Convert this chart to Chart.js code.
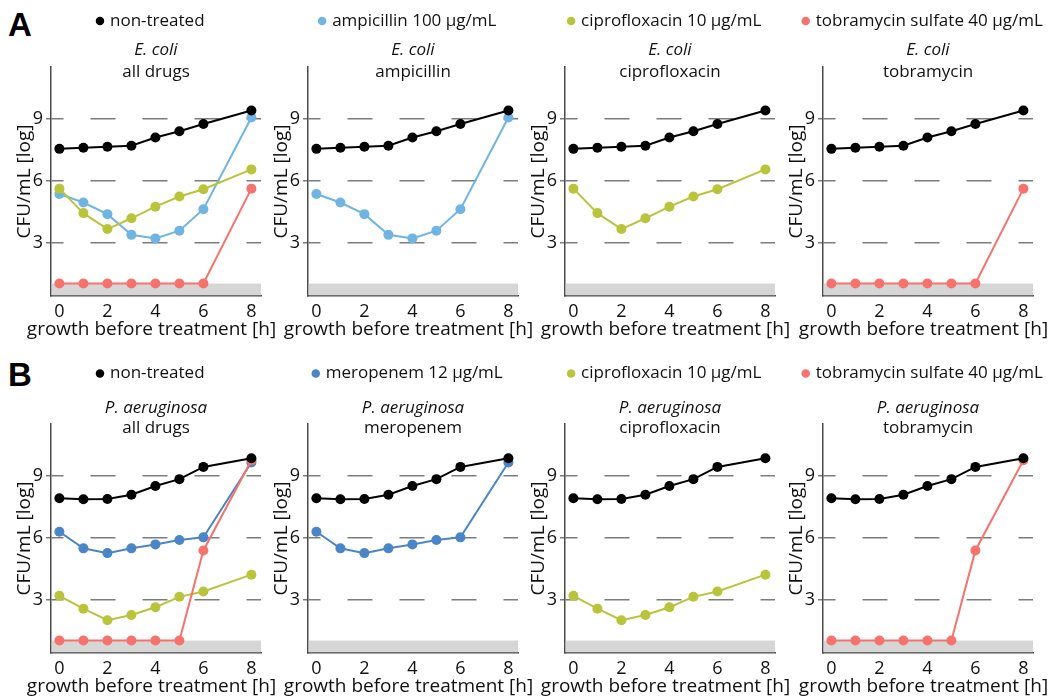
<!DOCTYPE html>
<html>
<head>
<meta charset="utf-8">
<script src="https://cdn.jsdelivr.net/npm/chart.js@4"></script>
<style>
  body { margin: 0; background: #fff; }
  #page { position: relative; width: 1059px; height: 698px; overflow: hidden; }
  canvas { position: absolute; }
  .tag { position: absolute; font: bold 33px 'Liberation Sans', Arial, sans-serif; line-height: 33px; color: #000; }
</style>
</head>
<body>
<div id="page">
  <div class="tag" style="left:8px; top:8px">A</div>
  <div class="tag" style="left:8px; top:358px">B</div>
</div>
<script>
const hours = [0, 1, 2, 3, 4, 5, 6, 8];
const xTickValues = [0, 2, 4, 6, 8];
const yTickValues = [3, 6, 9];
const detectionLimit = 1.05;

// E. coli, log CFU/mL
const ecoliNonTreated = [7.55, 7.6, 7.65, 7.7, 8.1, 8.4, 8.75, 9.4];
const ecoliAmpicillin = [5.37, 4.96, 4.4, 3.4, 3.23, 3.6, 4.64, 9.06];
const ecoliCiprofloxacin = [5.63, 4.45, 3.68, 4.2, 4.76, 5.25, 5.6, 6.56];
const ecoliTobramycin = [1.05, 1.05, 1.05, 1.05, 1.05, 1.05, 1.05, 5.63];

// P. aeruginosa, log CFU/mL
const paNonTreated = [7.92, 7.87, 7.88, 8.09, 8.51, 8.84, 9.43, 9.85];
const paMeropenem = [6.3, 5.5, 5.27, 5.5, 5.69, 5.9, 6.03, 9.64];
const paCiprofloxacin = [3.21, 2.59, 2.03, 2.28, 2.66, 3.16, 3.42, 4.23];
const paTobramycin = [1.05, 1.05, 1.05, 1.05, 1.05, 1.05, 5.4, 9.75];

const ecoliLabels = ['non-treated', 'ampicillin 100 µg/mL', 'ciprofloxacin 10 µg/mL', 'tobramycin sulfate 40 µg/mL'];
const paLabels = ['non-treated', 'meropenem 12 µg/mL', 'ciprofloxacin 10 µg/mL', 'tobramycin sulfate 40 µg/mL'];
const ecoliSubtitles = ['all drugs', 'ampicillin', 'ciprofloxacin', 'tobramycin'];
const paSubtitles = ['all drugs', 'meropenem', 'ciprofloxacin', 'tobramycin'];

const ecoliColors = ['#000000', '#70b4e2', '#b9c43b', '#f6736d'];
const paColors = ['#000000', '#4a86c6', '#b9c43b', '#f6736d'];

const rows = [
  { top: 0, species: 'E. coli', series: [ecoliNonTreated, ecoliAmpicillin, ecoliCiprofloxacin, ecoliTobramycin],
    labels: ecoliLabels, subtitles: ecoliSubtitles, colors: ecoliColors, legendPad: 12.5, titlePad: 0, subPad: 2 },
  { top: 357, species: 'P. aeruginosa', series: [paNonTreated, paMeropenem, paCiprofloxacin, paTobramycin],
    labels: paLabels, subtitles: paSubtitles, colors: paColors, legendPad: 8, titlePad: 6, subPad: 0 }
];

const plotLefts = [51, 308, 565, 823];
const plotWidth = 210;
const yAxisWidth = 51;
const rightSpacer = 42;   // invisible right axis, keeps full-width boxes centred near the plot
const canvasW = yAxisWidth + plotWidth + rightSpacer, canvasH = 345;
const plotTop = 67;
const tickAxisHeight = 22, xTitleHeight = 27;
const textColor = '#111';
const axisColor = '#4a4a4a';
const legendFont = 17, titleFont = 17;

Chart.defaults.font.family = "'Open Sans', sans-serif";
Chart.defaults.color = textColor;

// grey band below the detection limit
const detectionBand = {
  id: 'detectionBand',
  beforeDatasetsDraw(chart) {
    const {ctx, chartArea, scales: {y}} = chart;
    const top = y.getPixelForValue(detectionLimit);
    ctx.save();
    ctx.fillStyle = '#d6d6d6';
    ctx.fillRect(chartArea.left + 0.75, top, chartArea.right - chartArea.left - 0.75, chartArea.bottom - top - 0.75);
    ctx.restore();
  }
};

function makeDataset(row, idx) {
  const c = row.colors[idx];
  return {
    label: row.labels[idx],
    data: hours.map((h, i) => ({ x: h, y: row.series[idx][i] })),
    xAxisID: 'x',
    yAxisID: 'y',
    borderColor: c,
    backgroundColor: c,
    pointBackgroundColor: c,
    pointBorderColor: c,
    pointBorderWidth: 0,
    pointRadius: 5,
    borderWidth: 2,
    tension: 0
  };
}

const page = document.getElementById('page');

rows.forEach(row => {
  const lineH = titleFont * 1.2;
  const used = (legendFont + row.legendPad + 10) + (lineH + row.titlePad) + (lineH + row.subPad);
  const subBottom = plotTop - used;

  plotLefts.forEach((plotLeft, col) => {
    const canvas = document.createElement('canvas');
    canvas.width = canvasW;
    canvas.height = canvasH;
    canvas.style.left = (plotLeft - yAxisWidth) + 'px';
    canvas.style.top = row.top + 'px';
    page.appendChild(canvas);

    // draw order: first dataset ends up on top
    const shown = col === 0 ? [0, 3, 2, 1] : [0, col];
    const legendLabel = row.labels[col];

    new Chart(canvas, {
      type: 'line',
      data: { datasets: shown.map(i => makeDataset(row, i)) },
      plugins: [detectionBand],
      options: {
        responsive: false,
        animation: false,
        layout: { padding: 0 },
        plugins: {
          legend: {
            position: 'top',
            fullSize: true,
            weight: 3000,
            labels: {
              usePointStyle: true,
              boxWidth: 3,
              boxHeight: 6,
              padding: row.legendPad,
              color: textColor,
              font: { size: legendFont },
              filter: item => item.text === legendLabel
            }
          },
          title: {
            display: true,
            text: row.species,
            fullSize: false,
            color: textColor,
            font: { size: titleFont, style: 'italic', weight: 'normal' },
            padding: { top: row.titlePad, bottom: 0 }
          },
          subtitle: {
            display: true,
            text: row.subtitles[col],
            fullSize: false,
            color: textColor,
            font: { size: titleFont },
            padding: { top: row.subPad, bottom: subBottom }
          },
          tooltip: { enabled: false }
        },
        scales: {
          x: {
            type: 'linear',
            position: 'bottom',
            min: -0.35,
            max: 8.4,
            afterBuildTicks: s => { s.ticks = xTickValues.map(v => ({ value: v })); },
            afterFit: s => { s.height = tickAxisHeight; },
            grid: { display: false },
            border: { color: axisColor, width: 1.5 },
            ticks: { padding: -3, color: textColor, font: { size: 18 } }
          },
          y: {
            type: 'linear',
            position: 'left',
            min: 0.45,
            max: 11.5,
            afterBuildTicks: s => { s.ticks = yTickValues.map(v => ({ value: v })); },
            afterFit: s => { s.width = yAxisWidth; },
            grid: { color: '#7c7c7c', lineWidth: 1.5, tickLength: 5 },
            border: { color: axisColor, width: 1.5, dash: [25, 27], dashOffset: 13 },
            ticks: { padding: 3, color: textColor, font: { size: 18 } },
            title: {
              display: true,
              text: 'CFU/mL [log]',
              color: textColor,
              font: { size: 19 },
              padding: { top: 13.5, bottom: 0 }
            }
          },
          // full-width axis that only carries the x title
          xTitle: {
            type: 'linear',
            axis: 'x',
            position: 'bottom',
            fullSize: true,
            weight: 10,
            afterFit: s => { s.height = xTitleHeight; },
            grid: { display: false },
            border: { display: false },
            ticks: { display: false },
            title: {
              display: true,
              text: 'growth before treatment [h]',
              color: textColor,
              font: { size: 19 },
              padding: { top: 0, bottom: 3.6 }
            }
          },
          yPad: {
            type: 'linear',
            axis: 'y',
            position: 'right',
            afterFit: s => { s.width = rightSpacer; },
            grid: { display: false },
            border: { display: false },
            ticks: { display: false }
          }
        }
      }
    });
  });
});
</script>
</body>
</html>
